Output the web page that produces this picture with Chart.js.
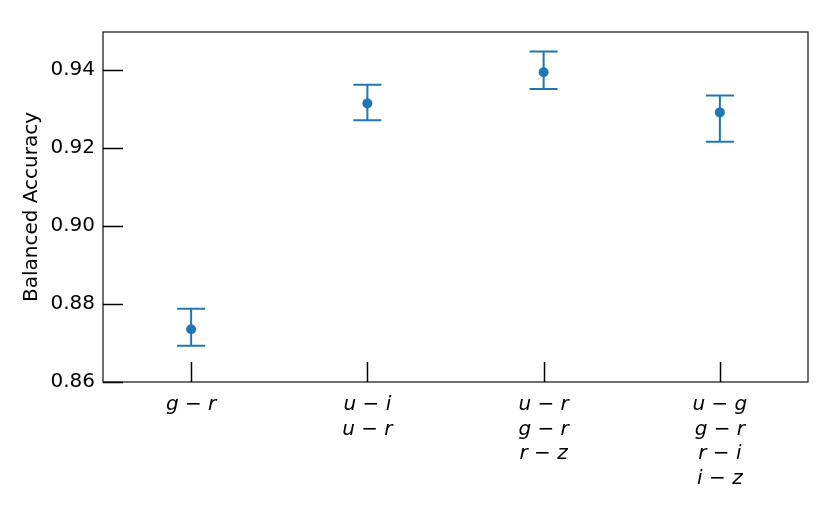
<!DOCTYPE html>
<html>
<head>
<meta charset="utf-8">
<script src="https://cdn.jsdelivr.net/npm/chart.js@4.4.1/dist/chart.umd.min.js"></script>
<style>
  html, body { margin: 0; padding: 0; background: #fff; }
  #wrap { width: 831px; height: 514px; }
</style>
</head>
<body>
<div id="wrap"><canvas id="c" width="831" height="514"></canvas></div>
<script>
// ---- data ----
const categories = [
  ['g − r'],
  ['u − i', 'u − r'],
  ['u − r', 'g − r', 'r − z'],
  ['u − g', 'g − r', 'r − i', 'i − z']
];
const xPositions = [0, 1, 2, 3];
const accuracy = [0.8735, 0.9314, 0.9394, 0.9291];
const errLow   = [0.8693, 0.9271, 0.9351, 0.9216];
const errHigh  = [0.8788, 0.9362, 0.9447, 0.9334];
const yTicks   = [0.86, 0.88, 0.90, 0.92, 0.94];

const BLUE = '#1f77b4';
const FONT = 'DejaVu Sans';

const errorBarPlugin = {
  id: 'errorBars',
  beforeDatasetsDraw(chart) {
    const ctx = chart.ctx;
    const xs = chart.scales.x, ys = chart.scales.y;
    ctx.save();
    ctx.strokeStyle = BLUE;
    ctx.lineWidth = 2;
    for (let i = 0; i < xPositions.length; i++) {
      const px = xs.getPixelForValue(xPositions[i]);
      const pl = ys.getPixelForValue(errLow[i]);
      const ph = ys.getPixelForValue(errHigh[i]);
      const cap = 14;
      ctx.beginPath();
      ctx.moveTo(px, pl); ctx.lineTo(px, ph);
      ctx.moveTo(px - cap, pl); ctx.lineTo(px + cap, pl);
      ctx.moveTo(px - cap, ph); ctx.lineTo(px + cap, ph);
      ctx.stroke();
    }
    ctx.restore();
  }
};

const framePlugin = {
  id: 'frame',
  afterDraw(chart) {
    const ctx = chart.ctx;
    const a = chart.chartArea;
    const xs = chart.scales.x, ys = chart.scales.y;
    ctx.save();
    ctx.strokeStyle = '#222';
    ctx.lineWidth = 1.3;
    ctx.strokeRect(a.left, a.top, a.right - a.left, a.bottom - a.top);
    ctx.strokeStyle = '#000';
    ctx.lineWidth = 1.5;
    ctx.beginPath();
    yTicks.forEach(v => {
      const py = Math.round(ys.getPixelForValue(v)) + 0.5;
      ctx.moveTo(a.left, py); ctx.lineTo(a.left + 20, py);
    });
    xPositions.forEach(v => {
      const px = Math.round(xs.getPixelForValue(v)) + 0.5;
      ctx.moveTo(px, a.bottom); ctx.lineTo(px, a.bottom - 20);
    });
    ctx.stroke();
    ctx.restore();
  }
};

new Chart(document.getElementById('c'), {
  type: 'scatter',
  data: {
    datasets: [{
      data: xPositions.map((x, i) => ({ x: x, y: accuracy[i] })),
      backgroundColor: BLUE,
      borderColor: BLUE,
      borderWidth: 0,
      pointRadius: 5,
      pointHoverRadius: 5
    }]
  },
  options: {
    responsive: false,
    animation: false,
    devicePixelRatio: 1,
    layout: { padding: { left: 0, right: 23, top: 32, bottom: 0 } },
    plugins: { legend: { display: false }, tooltip: { enabled: false } },
    scales: {
      x: {
        type: 'linear',
        min: -0.5, max: 3.5,
        afterBuildTicks(scale) { scale.ticks = xPositions.map(v => ({ value: v })); },
        afterFit(scale) { scale.height = 132; },
        grid: { display: false, drawTicks: false },
        border: { display: false },
        ticks: {
          padding: 11,
          maxRotation: 0,
          autoSkip: false,
          color: '#000',
          font: { family: FONT, size: 20, style: 'italic', lineHeight: 1.22 },
          callback(value) { return categories[Math.round(value)]; }
        }
      },
      y: {
        min: 0.86, max: 0.9497,
        afterBuildTicks(scale) { scale.ticks = yTicks.map(v => ({ value: v })); },
        afterFit(scale) { scale.width = 103; },
        grid: { display: false, drawTicks: false },
        border: { display: false },
        title: {
          display: true,
          text: 'Balanced Accuracy',
          color: '#000',
          font: { family: FONT, size: 20 },
          padding: { top: 20, bottom: 0 }
        },
        ticks: {
          padding: 8,
          color: '#000',
          font: { family: FONT, size: 20 },
          callback(value) { return value.toFixed(2); }
        }
      }
    }
  },
  plugins: [errorBarPlugin, framePlugin]
});
</script>
</body>
</html>
